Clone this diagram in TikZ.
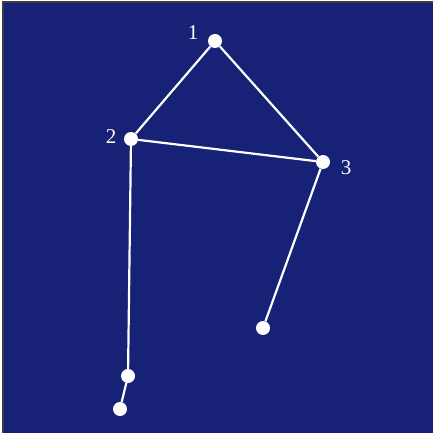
\documentclass[tikz,border=0pt]{standalone}
\usepackage{fontspec}
\setmainfont{Liberation Serif}
\definecolor{bgblue}{RGB}{23,33,117}
\definecolor{frame}{RGB}{60,60,60}
\begin{document}
\begin{tikzpicture}[x=1pt,y=-1pt,
  dot/.style={circle,fill=white,inner sep=0pt,minimum size=14pt},
  lbl/.style={text=white,font=\fontsize{21}{24}\selectfont,inner sep=0pt},
  edge/.style={draw=white,line width=2.2pt}]
\useasboundingbox (0,0) rectangle (435,435);
\fill[bgblue] (2,1) rectangle (433,433);
\draw[frame,line width=1.6pt] (2.8,433) -- (2.8,1.8) -- (433,1.8);
\node[dot] (n1) at (215,41) {};
\node[dot] (n2) at (131,139) {};
\node[dot] (n3) at (323,162) {};
\node[dot] (n4) at (263,328) {};
\node[dot] (n5) at (128,376) {};
\node[dot] (n6) at (120,409) {};
\node[lbl] (l1) at (193,33) {1};
\node[lbl] (l2) at (111,137) {2};
\node[lbl] (l3) at (346,168) {3};
\draw[edge] (n1) -- (n2);
\draw[edge] (n1) -- (n3);
\draw[edge] (n2) -- (n3);
\draw[edge] (n2) -- (n5);
\draw[edge] (n3) -- (n4);
\draw[edge] (n5) -- (n6);
\end{tikzpicture}
\end{document}
